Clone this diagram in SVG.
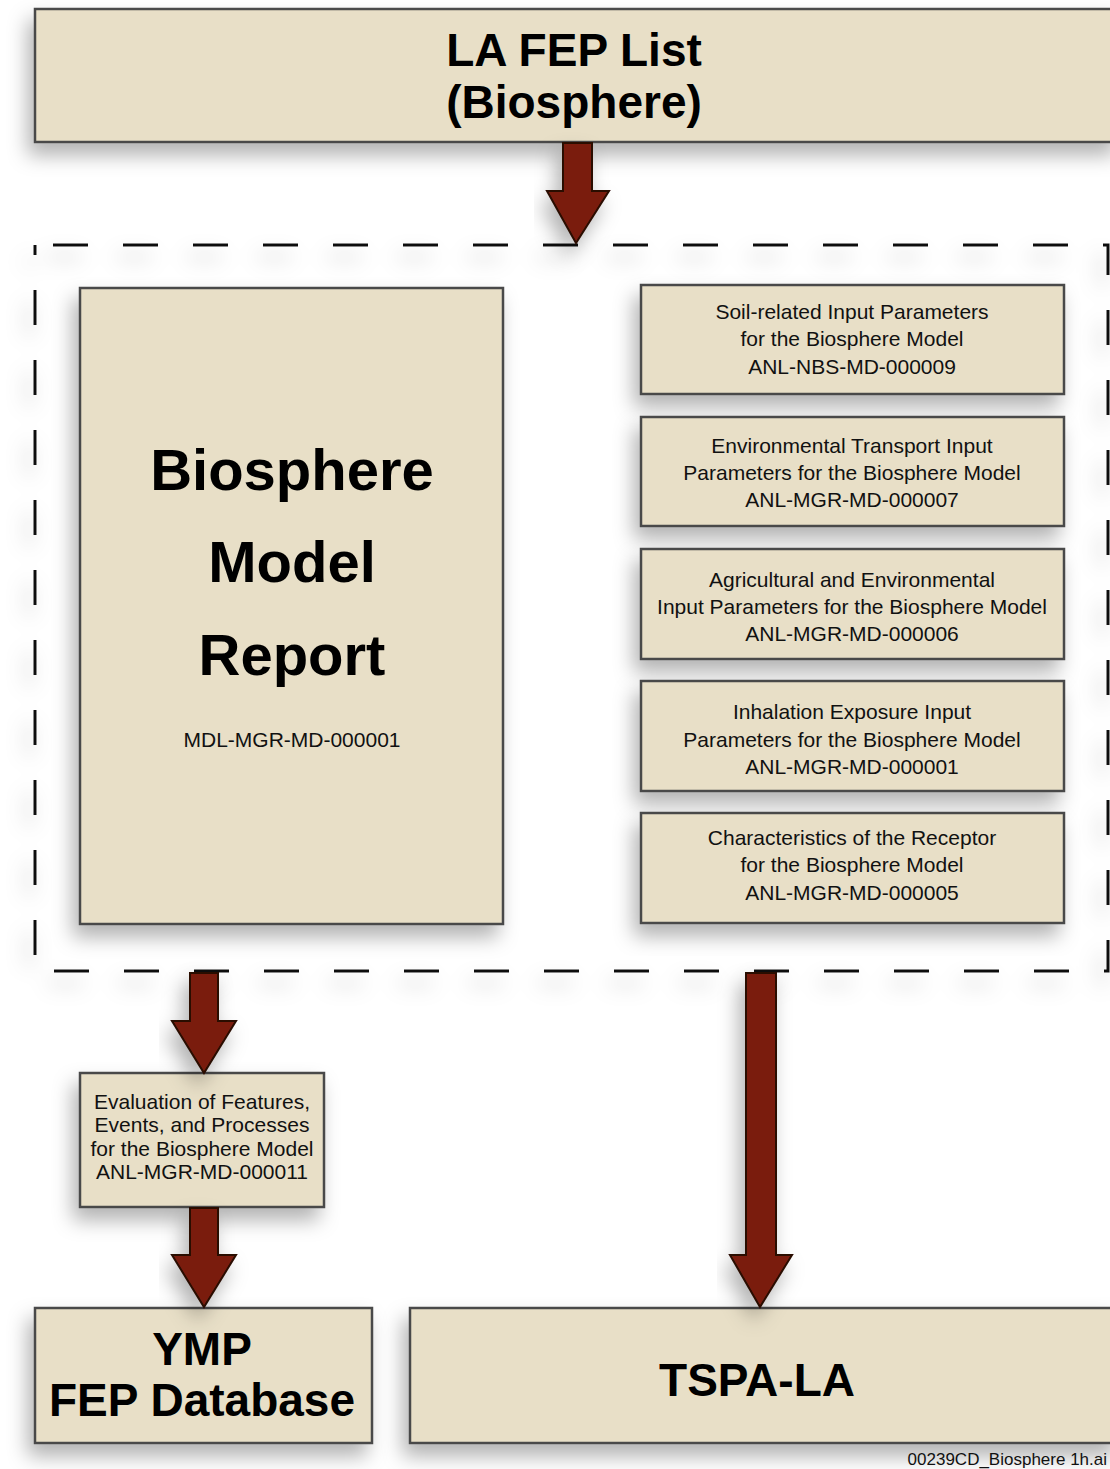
<svg xmlns="http://www.w3.org/2000/svg" width="1110" height="1469" viewBox="0 0 1110 1469">
<defs>
<style>
.box{fill:#e8dfc7;stroke:#4a4a4a;stroke-width:2.5}
.big{font-family:"Liberation Sans",Arial,sans-serif;font-weight:bold;fill:#000;text-anchor:middle}
.sm{font-family:"Liberation Sans",Arial,sans-serif;fill:#111;text-anchor:middle;font-size:21px}
.arr{fill:#7a1d0c;stroke:#2a0c04;stroke-width:2;stroke-linejoin:miter}
.dash{fill:none;stroke:#111;stroke-width:3;stroke-dasharray:35 35}
</style>
<filter id="sh" x="-20%" y="-20%" width="140%" height="150%">
<feDropShadow dx="-6" dy="12" stdDeviation="10" flood-color="#000" flood-opacity="0.3"/>
</filter>
</defs>
<rect width="1110" height="1469" fill="#fff"/>

<g id="dashed-frame">
<rect class="dash" x="35" y="245" width="1073" height="726" stroke-dashoffset="-18" filter="url(#sh)"/>
</g>

<g id="la-fep-list">
<rect class="box" x="35" y="9" width="1085" height="133" filter="url(#sh)"/>
<text class="big" x="574" y="66" font-size="46">LA FEP List</text>
<text class="big" x="574" y="118" font-size="46">(Biosphere)</text>
</g>

<g id="bmr">
<rect class="box" x="80" y="288" width="423" height="636" filter="url(#sh)"/>
<text class="big" x="292" y="490" font-size="58">Biosphere</text>
<text class="big" x="292" y="582" font-size="58">Model</text>
<text class="big" x="292" y="675" font-size="58">Report</text>
<text class="sm" x="292" y="747">MDL-MGR-MD-000001</text>
</g>

<g id="soil">
<rect class="box" x="641" y="285" width="423" height="109" filter="url(#sh)"/>
<text class="sm" x="852" y="319">Soil-related Input Parameters</text>
<text class="sm" x="852" y="346">for the Biosphere Model</text>
<text class="sm" x="852" y="374">ANL-NBS-MD-000009</text>
</g>

<g id="envtrans">
<rect class="box" x="641" y="417" width="423" height="109" filter="url(#sh)"/>
<text class="sm" x="852" y="453">Environmental Transport Input</text>
<text class="sm" x="852" y="480">Parameters for the Biosphere Model</text>
<text class="sm" x="852" y="507">ANL-MGR-MD-000007</text>
</g>

<g id="agri">
<rect class="box" x="641" y="549" width="423" height="110" filter="url(#sh)"/>
<text class="sm" x="852" y="587">Agricultural and Environmental</text>
<text class="sm" x="852" y="614">Input Parameters for the Biosphere Model</text>
<text class="sm" x="852" y="641">ANL-MGR-MD-000006</text>
</g>

<g id="inhal">
<rect class="box" x="641" y="681" width="423" height="110" filter="url(#sh)"/>
<text class="sm" x="852" y="719">Inhalation Exposure Input</text>
<text class="sm" x="852" y="747">Parameters for the Biosphere Model</text>
<text class="sm" x="852" y="774">ANL-MGR-MD-000001</text>
</g>

<g id="receptor">
<rect class="box" x="641" y="813" width="423" height="110" filter="url(#sh)"/>
<text class="sm" x="852" y="845">Characteristics of the Receptor</text>
<text class="sm" x="852" y="872">for the Biosphere Model</text>
<text class="sm" x="852" y="900">ANL-MGR-MD-000005</text>
</g>

<g id="eval">
<rect class="box" x="80" y="1073" width="244" height="134" filter="url(#sh)"/>
<text class="sm" x="202" y="1109" font-size="20">Evaluation of Features,</text>
<text class="sm" x="202" y="1132" font-size="20">Events, and Processes</text>
<text class="sm" x="202" y="1156" font-size="20">for the Biosphere Model</text>
<text class="sm" x="202" y="1179" font-size="20">ANL-MGR-MD-000011</text>
</g>

<g id="ymp">
<rect class="box" x="35" y="1308" width="337" height="135" filter="url(#sh)"/>
<text class="big" x="202" y="1365" font-size="46">YMP</text>
<text class="big" x="202" y="1416" font-size="46">FEP Database</text>
</g>

<g id="tspa">
<rect class="box" x="410" y="1308" width="710" height="135" filter="url(#sh)"/>
<text class="big" x="757" y="1396" font-size="46">TSPA-LA</text>
</g>

<g id="connectors">
<path class="arr" filter="url(#sh)" d="M563,143 L592,143 L592,191 L609,191 L576,243 L547,191 L563,191 Z"/>
<path class="arr" filter="url(#sh)" d="M190,973 L218,973 L218,1021 L236,1021 L204,1073 L172,1021 L190,1021 Z"/>
<path class="arr" filter="url(#sh)" d="M190,1208 L218,1208 L218,1255 L236,1255 L204,1307 L172,1255 L190,1255 Z"/>
<path class="arr" filter="url(#sh)" d="M746,973 L776,973 L776,1255 L792,1255 L760,1307 L730,1255 L746,1255 Z"/>
</g>

<text x="1107" y="1465" font-family="'Liberation Sans',Arial,sans-serif" font-size="17" text-anchor="end" fill="#111">00239CD_Biosphere 1h.ai</text>
</svg>
